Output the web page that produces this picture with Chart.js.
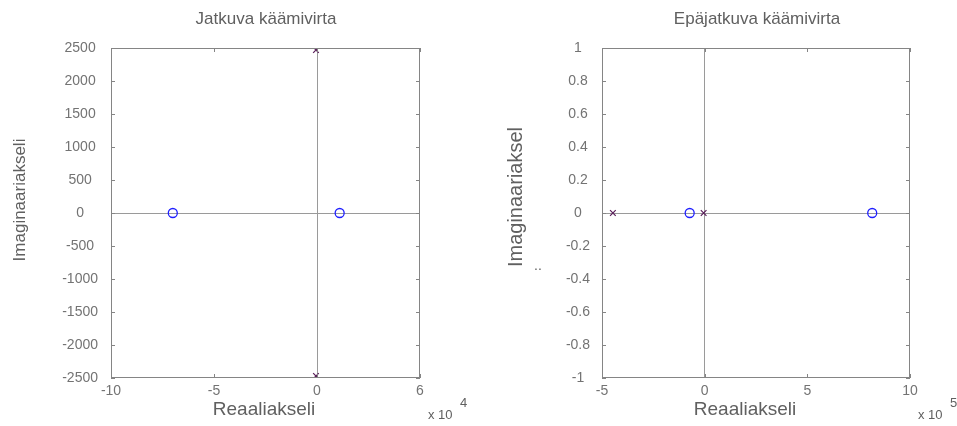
<!DOCTYPE html>
<html><head><meta charset="utf-8">
<script src="https://cdn.jsdelivr.net/npm/chart.js@4.4.0/dist/chart.umd.min.js"></script>
<style>
html,body{margin:0;padding:0;background:#fff;overflow:hidden}
#wrap{position:relative;width:957px;height:426px;background:#fff}
canvas{position:absolute;top:0}
</style></head><body>
<div id="wrap">
<canvas id="c1" width="478" height="426" style="left:0px"></canvas>
<canvas id="c2" width="479" height="426" style="left:478px"></canvas>
</div>
<script>
// ---- data (real axis in units of the exponent shown under the axis) ----
const leftTitle = 'Jatkuva käämivirta';
const rightTitle = 'Epäjatkuva käämivirta';
const xAxisTitle = 'Reaaliakseli';
const leftYAxisTitle = 'Imaginaariakseli';
const rightYAxisTitle = 'Imaginaariaksel';

const leftZerosRe = [-7.0, 1.1];     // x 10^4
const leftZerosIm = [0, 0];
const leftPolesRe = [-0.05, -0.05];  // x 10^4
const leftPolesIm = [2470, -2470];

const rightZerosRe = [-0.73, 8.16];  // x 10^5
const rightZerosIm = [0, 0];
const rightPolesRe = [-4.47, -0.05]; // x 10^5
const rightPolesIm = [0, 0];

const leftXTicks = [-10, -5, 0, 5];
const leftXTickLabels = ['-10', '-5', '0', '6'];
const leftYTicks = [2500, 2000, 1500, 1000, 500, 0, -500, -1000, -1500, -2000, -2500];
const leftYTickLabels = ['2500', '2000', '1500', '1000', '500', '0', '-500', '-1000', '-1500', '-2000', '-2500'];
const leftExponent = '4';

const rightXTicks = [-5, 0, 5, 10];
const rightXTickLabels = ['-5', '0', '5', '10'];
const rightYTicks = [1, 0.8, 0.6, 0.4, 0.2, 0, -0.2, -0.4, -0.6, -0.8, -1];
const rightYTickLabels = ['1', '0.8', '0.6', '0.4', '0.2', '0', '-0.2', '-0.4', '-0.6', '-0.8', '-1'];
const rightExponent = '5';

const FONT = 'Liberation Sans, Arial, sans-serif';
const TICK_COLOR = '#737373';
const TEXT_COLOR = '#606060';

function pts(re, im) { return re.map((r, i) => ({ x: r, y: im[i] })); }

function makeChart(id, cfg) {
  const decor = {
    id: 'decor',
    afterDraw(chart) {
      const ctx = chart.ctx, a = chart.chartArea;
      const xs = chart.scales.x, ys = chart.scales.y;
      ctx.save();
      // box
      ctx.strokeStyle = '#858585';
      ctx.lineWidth = 1;
      ctx.strokeRect(Math.round(a.left) + 0.5, Math.round(a.top) + 0.5,
                     Math.round(a.right - a.left) - 1, Math.round(a.bottom - a.top) - 1);
      // inner tick marks
      ctx.beginPath();
      cfg.xTicks.forEach(v => {
        const px = Math.round(xs.getPixelForValue(v)) + 0.5;
        ctx.moveTo(px, a.bottom); ctx.lineTo(px, a.bottom - 4);
        ctx.moveTo(px, a.top); ctx.lineTo(px, a.top + 4);
      });
      cfg.yTicks.forEach(v => {
        const py = Math.round(ys.getPixelForValue(v)) + 0.5;
        ctx.moveTo(a.left, py); ctx.lineTo(a.left + 4, py);
        ctx.moveTo(a.right, py); ctx.lineTo(a.right - 4, py);
      });
      ctx.stroke();
      // titles
      ctx.fillStyle = TEXT_COLOR;
      ctx.textAlign = 'center';
      ctx.textBaseline = 'middle';
      ctx.font = '17px ' + FONT;
      ctx.fillText(cfg.title, cfg.titleX, 19);
      ctx.font = '19px ' + FONT;
      ctx.fillText(xAxisTitle, cfg.xTitleX, 410);
      ctx.save();
      ctx.translate(cfg.yTitleX, cfg.yTitleY);
      ctx.rotate(-Math.PI / 2);
      ctx.font = cfg.yTitleSize + 'px ' + FONT;
      ctx.fillText(cfg.yTitle, 0, 0);
      ctx.restore();
      if (cfg.dots) {
        ctx.font = '14px ' + FONT;
        ctx.fillText('..', cfg.dots[0], cfg.dots[1]);
      }
      // exponent
      ctx.textAlign = 'left';
      ctx.font = '13px ' + FONT;
      ctx.fillText('x 10', cfg.expX, 415);
      ctx.fillText(cfg.exponent, cfg.expX + 32, 403);
      ctx.restore();
    }
  };

  return new Chart(document.getElementById(id), {
    type: 'scatter',
    data: {
      datasets: [
        { data: pts(cfg.zRe, cfg.zIm), pointStyle: 'circle', pointRadius: 4.5,
          borderColor: '#1f1fff', backgroundColor: 'rgba(0,0,0,0)', borderWidth: 1.3 },
        { data: pts(cfg.pRe, cfg.pIm), pointStyle: 'crossRot', pointRadius: 4,
          borderColor: '#5a1f5a', backgroundColor: '#5a1f5a', borderWidth: 1.2 }
      ]
    },
    options: {
      responsive: false, animation: false, events: [],
      layout: { padding: { top: 48, right: cfg.padRight, left: 0, bottom: 0 } },
      plugins: { legend: { display: false }, tooltip: { enabled: false }, title: { display: false } },
      scales: {
        x: {
          type: 'linear', min: cfg.xMin, max: cfg.xMax,
          afterBuildTicks: s => { s.ticks = cfg.xTicks.map(v => ({ value: v })); },
          afterFit: s => { s.height = 48; },
          ticks: { autoSkip: false, maxRotation: 0, padding: 5, color: TICK_COLOR,
                   font: { family: FONT, size: 14 },
                   callback: (v, i) => cfg.xLabels[i] },
          grid: { drawTicks: false, lineWidth: 1,
                  color: c => (c.tick && c.tick.value === 0) ? '#9a9a9a' : 'rgba(0,0,0,0)' },
          border: { display: false }
        },
        y: {
          type: 'linear', min: cfg.yMin, max: cfg.yMax,
          afterBuildTicks: s => { s.ticks = cfg.yTicks.map(v => ({ value: v })); },
          afterFit: s => { s.width = cfg.yAxisWidth; },
          ticks: { autoSkip: false, padding: cfg.yPad, crossAlign: 'center', color: TICK_COLOR,
                   font: { family: FONT, size: 14 },
                   callback: (v, i) => cfg.yLabels[i] },
          grid: { drawTicks: false, lineWidth: 1,
                  color: c => (c.tick && c.tick.value === 0) ? '#9a9a9a' : 'rgba(0,0,0,0)' },
          border: { display: false }
        }
      }
    },
    plugins: [decor]
  });
}

makeChart('c1', {
  zRe: leftZerosRe, zIm: leftZerosIm, pRe: leftPolesRe, pIm: leftPolesIm,
  xMin: -10, xMax: 5, yMin: -2500, yMax: 2500,
  xTicks: leftXTicks, xLabels: leftXTickLabels, yTicks: leftYTicks, yLabels: leftYTickLabels,
  padRight: 58, yAxisWidth: 111, yPad: 13,
  title: leftTitle, titleX: 266, xTitleX: 264,
  yTitle: leftYAxisTitle, yTitleX: 20, yTitleY: 200, yTitleSize: 17,
  expX: 428, exponent: leftExponent
});

makeChart('c2', {
  zRe: rightZerosRe, zIm: rightZerosIm, pRe: rightPolesRe, pIm: rightPolesIm,
  xMin: -5, xMax: 10, yMin: -1, yMax: 1,
  xTicks: rightXTicks, xLabels: rightXTickLabels, yTicks: rightYTicks, yLabels: rightYTickLabels,
  padRight: 47, yAxisWidth: 124, yPad: 12,
  title: rightTitle, titleX: 279, xTitleX: 267,
  yTitle: rightYAxisTitle, yTitleX: 38, yTitleY: 197, yTitleSize: 20,
  dots: [60, 266],
  expX: 440, exponent: rightExponent
});
</script>
</body></html>
